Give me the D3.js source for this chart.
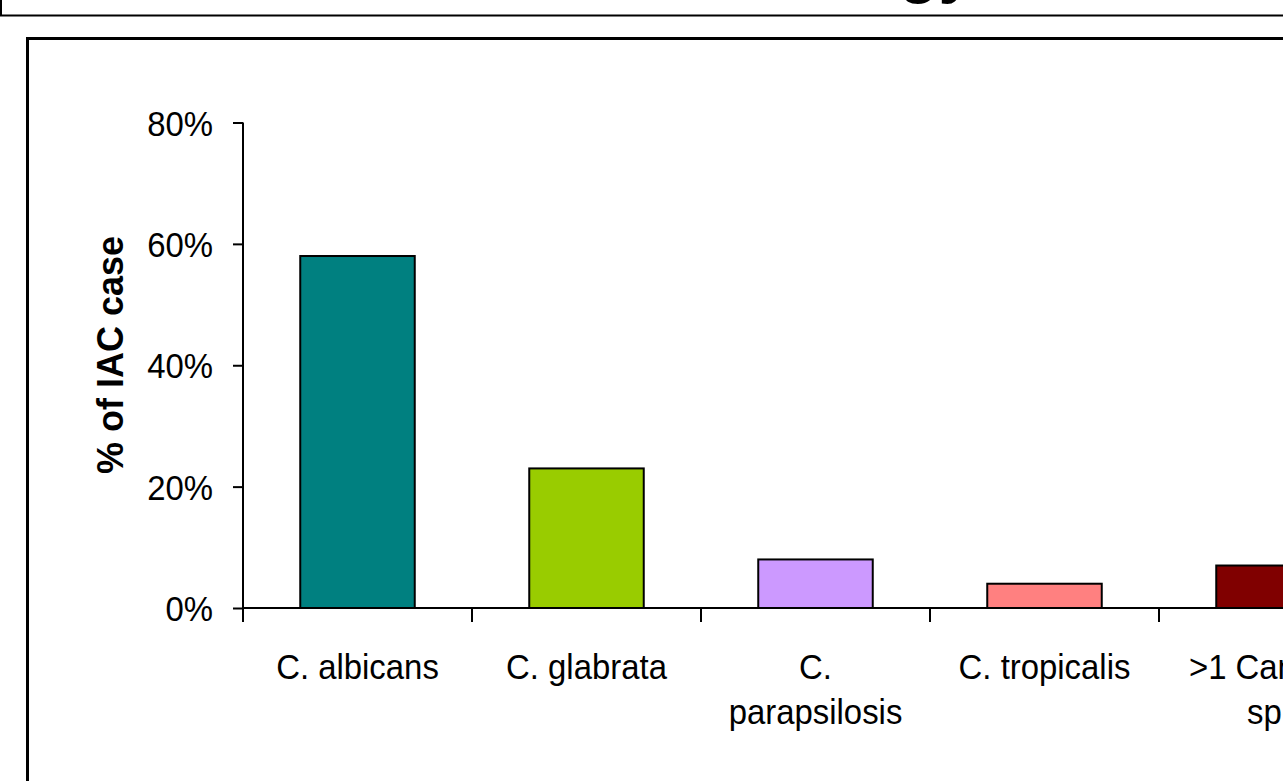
<!DOCTYPE html>
<html>
<head>
<meta charset="utf-8">
<script src="https://cdn.jsdelivr.net/npm/d3@7"></script>
<style>
  html, body { margin: 0; padding: 0; background: #fff; }
  svg { display: block; }
  text { font-family: "Liberation Sans", Arial, sans-serif; fill: #000; }
</style>
</head>
<body>
<svg id="chart" width="1283" height="781"></svg>
<script>
// Species distribution of intra-abdominal candidiasis cases
const categories = [["C. albicans"], ["C. glabrata"], ["C.", "parapsilosis"], ["C. tropicalis"], [">1 Candida", "spp"]];
const shares = [0.58, 0.23, 0.08, 0.04, 0.07];
const barColors = ["#008080", "#99CC00", "#CC99FF", "#FF8080", "#800000"];
const yTicks = [0, 0.2, 0.4, 0.6, 0.8];
const yTitle = "% of IAC case";
const slideTitle = "Microbiology";

const svg = d3.select("#chart");

// slide title box (mostly above the visible area)
svg.append("rect")
  .attr("x", 1).attr("y", -120).attr("width", 1400).attr("height", 135.5)
  .attr("fill", "none").attr("stroke", "#000").attr("stroke-width", 2);
svg.append("text")
  .attr("x", 974).attr("y", -9)
  .attr("text-anchor", "end")
  .style("font-size", "64px").style("font-weight", "bold")
  .text(slideTitle);

// chart frame
svg.append("rect")
  .attr("x", 27.5).attr("y", 38.5).attr("width", 1400).attr("height", 900)
  .attr("fill", "none").attr("stroke", "#000").attr("stroke-width", 3);

const x = d3.scaleBand()
  .domain(d3.range(categories.length))
  .range([243, 243 + 229 * categories.length])
  .paddingInner(0.5)
  .paddingOuter(0.25);

const y = d3.scaleLinear().domain([0, 0.8]).range([608, 122.5]);

// bars
svg.append("g").selectAll("rect")
  .data(shares)
  .join("rect")
  .attr("x", (d, i) => x(i))
  .attr("y", d => y(d))
  .attr("width", x.bandwidth())
  .attr("height", d => y(0) - y(d))
  .attr("fill", (d, i) => barColors[i])
  .attr("stroke", "#000")
  .attr("stroke-width", 2);

// y axis
const yAxis = svg.append("g")
  .attr("transform", "translate(243,0)")
  .call(d3.axisLeft(y).tickValues(yTicks).tickFormat(d3.format(".0%")).tickSize(10).tickPadding(0));
yAxis.select(".domain").attr("stroke", "#000").attr("stroke-width", 2).attr("d", `M0,${y(0.8)}V${y(0)}`);
yAxis.selectAll(".tick line").attr("stroke", "#000").attr("stroke-width", 2);
yAxis.selectAll(".tick text").remove();
yAxis.selectAll(".tick").append("text")
  .attr("transform", "translate(-30,0) scale(0.94,1)")
  .attr("dy", "0.36em")
  .attr("text-anchor", "end")
  .style("font-size", "35px")
  .text(d => d3.format(".0%")(d));

// x axis: ticks at category boundaries
const step = x.step();
const x0 = x.range()[0];
const boundaries = d3.range(categories.length + 1).map(i => x0 + i * step);
svg.append("line")
  .attr("x1", x0).attr("x2", 1400).attr("y1", y(0)).attr("y2", y(0))
  .attr("stroke", "#000").attr("stroke-width", 2);
svg.append("g").selectAll("line")
  .data(boundaries)
  .join("line")
  .attr("x1", d => d).attr("x2", d => d)
  .attr("y1", y(0)).attr("y2", y(0) + 14)
  .attr("stroke", "#000").attr("stroke-width", 2);

// category labels
const labels = svg.append("g").selectAll("g")
  .data(categories)
  .join("g")
  .attr("transform", (d, i) => `translate(${x(i) + x.bandwidth() / 2},0)`);
labels.selectAll("text")
  .data(d => d)
  .join("text")
  .attr("transform", (d, j) => `translate(0,${679 + j * 45}) scale(0.94,1)`)
  .attr("text-anchor", "middle")
  .style("font-size", "35px")
  .text(d => d);

// y axis title
svg.append("text")
  .attr("transform", "translate(123,355) rotate(-90)")
  .attr("text-anchor", "middle")
  .style("font-size", "36px")
  .style("font-weight", "bold")
  .text(yTitle);
</script>
</body>
</html>
